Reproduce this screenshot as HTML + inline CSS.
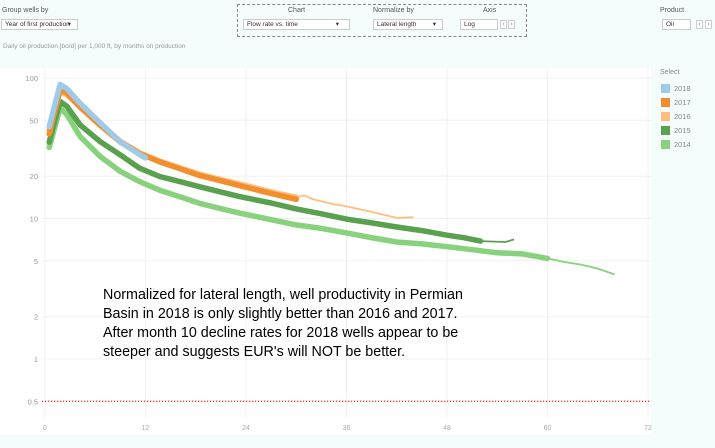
<!DOCTYPE html>
<html><head><meta charset="utf-8"><style>
body{margin:0;width:715px;height:448px;background:#f5fcfc;font-family:"Liberation Sans",sans-serif;position:relative;overflow:hidden}
.lbl{position:absolute;font-size:7px;color:#555}
.box{position:absolute;background:#fff;border:1px solid #ccc;font-size:6.5px;color:#333;box-sizing:border-box;padding:2px 3px;line-height:6px}
.arr{position:absolute;font-size:7px;color:#888;border:1px solid #ccc;background:#fff;width:7px;height:9px;box-sizing:border-box;text-align:center;line-height:8px}
</style></head><body>
<div class="lbl" style="left:2px;top:7px">Group wells by</div>
<div class="box" style="left:1px;top:19px;width:77px;height:11px">Year of first production<span style="position:absolute;right:6px">▾</span></div>
<div style="position:absolute;left:237px;top:4px;width:290px;height:33px;border:1px dashed #888;box-sizing:border-box"></div>
<div class="lbl" style="left:288px;top:7px">Chart</div>
<div class="box" style="left:243px;top:19px;width:107px;height:11px">Flow rate vs. time<span style="position:absolute;right:10px">▾</span></div>
<div class="lbl" style="left:373px;top:7px">Normalize by</div>
<div class="box" style="left:373px;top:19px;width:70px;height:11px">Lateral length<span style="position:absolute;right:6px">▾</span></div>
<div class="lbl" style="left:483px;top:7px">Axis</div>
<div class="box" style="left:460px;top:19px;width:38px;height:11px">Log</div>
<div class="arr" style="left:500px;top:20px">‹</div>
<div class="arr" style="left:508px;top:20px">›</div>
<div class="lbl" style="left:660px;top:7px">Product</div>
<div class="box" style="left:662px;top:19px;width:29px;height:11px">Oil</div>
<div class="arr" style="left:696px;top:20px">‹</div>
<div class="arr" style="left:705px;top:20px">›</div>
<div class="lbl" style="left:3px;top:43px;color:#999;font-size:6.5px">Daily oil production [bo/d] per 1,000 ft, by months on production</div>

<svg id="chart" width="715" height="448" style="position:absolute;left:0;top:0">
<rect x="0" y="68" width="651" height="367" fill="#fff"/>
<g id="grid"></g><g id="lines"></g>
</svg>
<div style="position:absolute;left:103px;top:286px;font-size:14.3px;line-height:19px;color:#000;font-family:'Liberation Sans',Arial,sans-serif">Normalized for lateral length, well productivity in Permian<br>Basin in 2018 is only slightly better than 2016 and 2017.<br>After month 10 decline rates for 2018 wells appear to be<br>steeper and suggests EUR's will NOT be better.</div>

<div class="lbl" style="left:660px;top:69px;color:#888">Select</div>
<div id="legend"></div>
<script>
const yTicks=[100,50,20,10,5,2,1,0.5];
const yTickLabels=["100","50","20","10","5","2","1","0.5"];
const xTicks=[0,12,24,36,48,60,72];
const years=["2018","2017","2016","2015","2014"];
const m2018=[0.5,1.8,2.6,4.2,6.6,9,11.3,12];
const v2018=[45,90,84,66,48,35,28.5,27];
const m2017=[0.5,1.8,2.6,4.2,6.6,9,11.3,13.7,16.1,18.5,20.9,23.3,26,28,30];
const v2017=[40,83,78,62,46,35,29,25.3,22.6,20.2,18.6,17.1,15.6,14.6,13.7];
const m2016=[0.5,1.8,2.6,4.2,6.6,9,11.3,13.7,16.1,18.5,20.9,23.3,26,28,30,31,32,34,36,38,40,42,44];
const v2016=[43,80,76,63,47,35.5,29.3,25.6,23,20.6,19,17.6,16,15,14.2,14.6,13.7,12.8,12.2,11.5,10.8,10.1,10.2];
const m2015=[0.5,1.8,2.6,4.2,6.6,9,11.3,13.7,16.1,18.5,20.9,23.3,27,30,33,36,39,42,45,48,50,52,55,56];
const v2015=[35,68,63,46.3,35.2,28.3,22.8,19.9,18.3,16.8,15.5,14.3,12.9,11.7,10.8,9.9,9.3,8.7,8.2,7.6,7.3,6.9,6.8,7.1];
const m2014=[0.5,1.8,2.6,4.2,6.6,9,11.3,13.7,16.1,18.5,20.9,23.3,27,30,33,36,39,42,45,48,51,54,57,60,62,64,66,68];
const v2014=[32,61,55,38.3,27.6,21.6,18.3,15.9,14.3,12.8,11.8,10.9,9.8,9.0,8.5,7.9,7.3,6.8,6.6,6.3,6.0,5.7,5.6,5.2,4.9,4.7,4.4,4.0];
const series=[[m2014,v2014,"#88d17d",60],[m2015,v2015,"#59a14f",52],[m2016,v2016,"#ffbe7d",30],[m2017,v2017,"#f28e2b",99],[m2018,v2018,"#a0cbe8",99]];
const colors=["#a0cbe8","#f28e2b","#ffbe7d","#59a14f","#88d17d"];
const NS="http://www.w3.org/2000/svg";
const X=m=>45+m*(603/72);
const Y=v=>78+(2-Math.log10(v))*140.5;
const grid=document.getElementById('grid'),lines=document.getElementById('lines');
function mk(t,a,p){const e=document.createElementNS(NS,t);for(const k in a)e.setAttribute(k,a[k]);p.appendChild(e);return e;}
yTicks.forEach((t,i)=>{
 const l=mk('line',{x1:42,x2:651,y1:Y(t),y2:Y(t),stroke:'#f0f0f0'},grid);
 
 
 const tx=mk('text',{x:38,y:Y(t)+3,'text-anchor':'end','font-size':7.5,fill:'#999'},grid);
 tx.textContent=yTickLabels[i];
 
 
});
xTicks.forEach(t=>{
 const l=mk('line',{x1:X(t),x2:X(t),y1:68,y2:418,stroke:'#f0f0f0'},grid);
 
 
 const tx=mk('text',{x:X(t),y:430,'text-anchor':'middle','font-size':7,fill:'#aaa'},grid);
 tx.textContent=t;
 
 
});
const ref=mk('line',{x1:42,x2:651,y1:Y(0.5),y2:Y(0.5),stroke:'#e8413c','stroke-dasharray':'1.2 1.8','stroke-width':1.3},grid);


series.forEach((s,si)=>{
 const [ms,vs,c,thin]=s;
 const thick=[],tail=[];
 ms.forEach((m,i)=>{const p=X(m).toFixed(1)+','+Y(vs[i]).toFixed(1);if(m<=thin)thick.push(p);if(m>=thin)tail.push(p);});
 const pl=mk('polyline',{points:thick.join(' '),fill:'none',stroke:c,'stroke-width':5.5,'stroke-linejoin':'round','stroke-linecap':'round'},lines);
 
 
 if(tail.length>1){
  const t=mk('polyline',{points:tail.join(' '),fill:'none',stroke:c,'stroke-width':1.8,'stroke-linejoin':'round'},lines);
  
  
 }
});
const lg=document.getElementById('legend');
years.forEach((y,i)=>{
 const d=document.createElement('div');
 
 
 d.style.cssText=`position:absolute;left:661px;top:${84+i*14}px;font-size:7.5px;color:#888;line-height:9px`;
 d.innerHTML=`<span style="display:inline-block;width:9px;height:9px;background:${colors[i]};vertical-align:top;margin-right:4px"></span>${y}`;
 lg.appendChild(d);
});
</script>
</body></html>
